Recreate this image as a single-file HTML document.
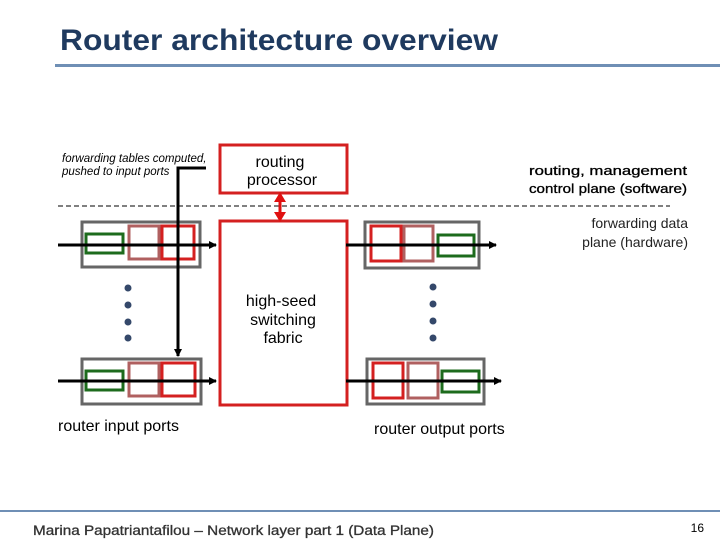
<!DOCTYPE html>
<html><head><style>
body{margin:0;width:720px;height:540px;background:#fff;overflow:hidden;font-family:"Liberation Sans",sans-serif}
</style></head><body>
<svg width="720" height="540" xmlns="http://www.w3.org/2000/svg" font-family="Liberation Sans, sans-serif">
<defs><marker id="a" markerWidth="8" markerHeight="8" refX="7" refY="4" orient="auto" markerUnits="userSpaceOnUse"><path d="M0,0 L8,4 L0,8 z" fill="#000"/></marker></defs>
<text x="60" y="50" font-size="30" font-weight="bold" fill="#1f3a5f" textLength="438" lengthAdjust="spacingAndGlyphs">Router architecture overview</text>
<rect x="55" y="64" width="665" height="3" fill="#6f8fb5"/>
<line x1="58" y1="206" x2="670" y2="206" stroke="#000" stroke-dasharray="5,3" stroke-width="1"/>
<text x="62" y="162" font-size="11.5" font-style="italic">forwarding tables computed,</text>
<text x="62" y="175" font-size="11.5" font-style="italic">pushed to input ports</text>
<rect x="220" y="145" width="127" height="48" fill="none" stroke="#d42020" stroke-width="3"/>
<text x="280" y="167" font-size="16" text-anchor="middle">routing</text>
<text x="282" y="185" font-size="16" text-anchor="middle">processor</text>
<rect x="220" y="221" width="127" height="184" fill="none" stroke="#d42020" stroke-width="3"/>
<text x="281" y="306" font-size="16" text-anchor="middle">high-seed</text>
<text x="283" y="325" font-size="16" text-anchor="middle">switching</text>
<text x="283" y="343" font-size="16" text-anchor="middle">fabric</text>
<line x1="280" y1="200" x2="280" y2="214" stroke="#e01010" stroke-width="3"/>
<path d="M274,202 L280,192 L286,202z M274,212 L280,222 L286,212z" fill="#e01010"/>
<text x="529" y="175" font-size="12.5" textLength="158" lengthAdjust="spacingAndGlyphs" stroke="#000" stroke-width="0.3">routing, management</text>
<text x="529" y="193" font-size="12.5" textLength="158" lengthAdjust="spacingAndGlyphs" stroke="#000" stroke-width="0.3">control plane (software)</text>
<text x="688" y="228" font-size="14" text-anchor="end" fill="#222">forwarding data</text>
<text x="688" y="247" font-size="14" text-anchor="end" fill="#222">plane  (hardware)</text>
<g fill="none" stroke-width="3">
<rect x="82" y="222" width="118" height="45" stroke="#666"/>
<rect x="86" y="234" width="37" height="19" stroke="#1d6b1d"/>
<rect x="129" y="226" width="30" height="33" stroke="#b06060"/>
<rect x="162" y="226" width="32" height="33" stroke="#d42020"/>
<rect x="82" y="359" width="119" height="45" stroke="#666"/>
<rect x="86" y="371" width="37" height="19" stroke="#1d6b1d"/>
<rect x="129" y="363" width="30" height="33" stroke="#b06060"/>
<rect x="162" y="363" width="33" height="33" stroke="#d42020"/>
<rect x="365" y="222" width="114" height="46" stroke="#666"/>
<rect x="371" y="226" width="30" height="35" stroke="#d42020"/>
<rect x="404" y="226" width="29" height="35" stroke="#b06060"/>
<rect x="438" y="235" width="36" height="21" stroke="#1d6b1d"/>
<rect x="367" y="359" width="117" height="45" stroke="#666"/>
<rect x="373" y="363" width="30" height="35" stroke="#d42020"/>
<rect x="408" y="363" width="30" height="35" stroke="#b06060"/>
<rect x="442" y="371" width="37" height="21" stroke="#1d6b1d"/>
</g>
<g stroke="#000" stroke-width="3">
<line x1="58" y1="245" x2="216" y2="245" marker-end="url(#a)"/>
<line x1="58" y1="381" x2="216" y2="381" marker-end="url(#a)"/>
<line x1="346" y1="245" x2="496" y2="245" marker-end="url(#a)"/>
<line x1="346" y1="381" x2="501" y2="381" marker-end="url(#a)"/>
<polyline points="206,168 178,168 178,356" fill="none" marker-end="url(#a)"/>
</g>
<g fill="#34486a">
<circle cx="128" cy="288" r="3.5"/><circle cx="128" cy="305" r="3.5"/><circle cx="128" cy="322" r="3.5"/><circle cx="128" cy="338" r="3.5"/>
<circle cx="433" cy="287" r="3.5"/><circle cx="433" cy="304" r="3.5"/><circle cx="433" cy="321" r="3.5"/><circle cx="433" cy="338" r="3.5"/>
</g>
<text x="58" y="431" font-size="16">router input ports</text>
<text x="374" y="434" font-size="16">router output ports</text>
<line x1="0" y1="511" x2="720" y2="511" stroke="#6f8fb5" stroke-width="2"/>
<text x="33" y="535" font-size="13.5" fill="#333" stroke="#333" stroke-width="0.3" textLength="401" lengthAdjust="spacingAndGlyphs">Marina Papatriantafilou –  Network layer part 1 (Data Plane)</text>
<text x="704" y="532" font-size="12" text-anchor="end">16</text>
</svg>
</body></html>
